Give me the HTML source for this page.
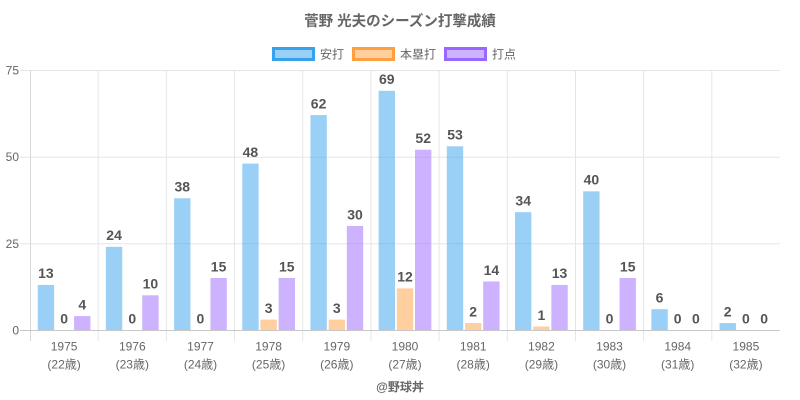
<!DOCTYPE html>
<html><head><meta charset="utf-8"><style>
html,body{margin:0;padding:0;background:#fff;}
svg{display:block;font-family:"Liberation Sans","Noto Sans CJK JP",sans-serif;}
</style></head><body>
<svg width="800" height="400" viewBox="0 0 800 400" xmlns="http://www.w3.org/2000/svg">
<rect width="800" height="400" fill="#fff"/>
<text x="400" y="26" text-anchor="middle" font-size="14.5" font-weight="bold" fill="#666">菅野 光夫のシーズン打撃成績</text>
<!-- legend -->
<rect x="273.5" y="48.5" width="40" height="11" fill="rgba(54,162,235,0.5)" stroke="#36a2eb" stroke-width="3"/>
<text x="320" y="58.5" font-size="12" fill="#666">安打</text>
<rect x="353.5" y="48.5" width="40" height="11" fill="rgba(255,159,64,0.5)" stroke="#ff9f40" stroke-width="3"/>
<text x="400" y="58.5" font-size="12" fill="#666">本塁打</text>
<rect x="445.5" y="48.5" width="40" height="11" fill="rgba(153,102,255,0.5)" stroke="#9966ff" stroke-width="3"/>
<text x="492" y="58.5" font-size="12" fill="#666">打点</text>
<!-- grid -->
<g stroke="#e6e6e6" stroke-width="1">
<line x1="20" y1="70.5" x2="780" y2="70.5"/>
<line x1="20" y1="157.2" x2="780" y2="157.2"/>
<line x1="20" y1="243.8" x2="780" y2="243.8"/>
<line x1="98.2" y1="70" x2="98.2" y2="341"/>
<line x1="166.4" y1="70" x2="166.4" y2="341"/>
<line x1="234.5" y1="70" x2="234.5" y2="341"/>
<line x1="302.7" y1="70" x2="302.7" y2="341"/>
<line x1="370.9" y1="70" x2="370.9" y2="341"/>
<line x1="439.1" y1="70" x2="439.1" y2="341"/>
<line x1="507.3" y1="70" x2="507.3" y2="341"/>
<line x1="575.5" y1="70" x2="575.5" y2="341"/>
<line x1="643.6" y1="70" x2="643.6" y2="341"/>
<line x1="711.8" y1="70" x2="711.8" y2="341"/>
</g>
<line x1="30.5" y1="70" x2="30.5" y2="341" stroke="#d9d9d9"/>
<line x1="20" y1="330.5" x2="780" y2="330.5" stroke="#c8c8c8"/>
<!-- y labels -->
<g font-size="12" fill="#666" text-anchor="end">
<text x="19" y="74.5">75</text>
<text x="19" y="161.2">50</text>
<text x="19" y="247.8">25</text>
<text x="19" y="334.5">0</text>
</g>
<!-- bars 安打 -->
<g fill="rgba(54,162,235,0.5)">
<rect x="37.73" y="284.93" width="16.36" height="45.07"/>
<rect x="105.91" y="246.8" width="16.36" height="83.2"/>
<rect x="174.09" y="198.27" width="16.36" height="131.73"/>
<rect x="242.27" y="163.6" width="16.36" height="166.4"/>
<rect x="310.45" y="115.07" width="16.36" height="214.93"/>
<rect x="378.64" y="90.8" width="16.36" height="239.2"/>
<rect x="446.82" y="146.27" width="16.36" height="183.73"/>
<rect x="515.0" y="212.13" width="16.36" height="117.87"/>
<rect x="583.18" y="191.33" width="16.36" height="138.67"/>
<rect x="651.36" y="309.2" width="16.36" height="20.8"/>
<rect x="719.55" y="323.07" width="16.36" height="6.93"/>
</g>
<!-- bars 本塁打 -->
<g fill="rgba(255,159,64,0.5)">
<rect x="260.45" y="319.6" width="16.36" height="10.4"/>
<rect x="328.64" y="319.6" width="16.36" height="10.4"/>
<rect x="396.82" y="288.4" width="16.36" height="41.6"/>
<rect x="465.0" y="323.07" width="16.36" height="6.93"/>
<rect x="533.18" y="326.53" width="16.36" height="3.47"/>
</g>
<!-- bars 打点 -->
<g fill="rgba(153,102,255,0.5)">
<rect x="74.09" y="316.13" width="16.36" height="13.87"/>
<rect x="142.27" y="295.33" width="16.36" height="34.67"/>
<rect x="210.45" y="278" width="16.36" height="52"/>
<rect x="278.64" y="278" width="16.36" height="52"/>
<rect x="346.82" y="226" width="16.36" height="104"/>
<rect x="415.0" y="149.73" width="16.36" height="180.27"/>
<rect x="483.18" y="281.47" width="16.36" height="48.53"/>
<rect x="551.36" y="284.93" width="16.36" height="45.07"/>
<rect x="619.55" y="278" width="16.36" height="52"/>
</g>
<!-- value labels -->
<g font-size="14" font-weight="bold" fill="#555" text-anchor="middle">
<text x="45.9" y="278.2">13</text>
<text x="64.1" y="323.3">0</text>
<text x="82.3" y="309.4">4</text>
<text x="114.1" y="240.1">24</text>
<text x="132.3" y="323.3">0</text>
<text x="150.4" y="288.6">10</text>
<text x="182.3" y="191.6">38</text>
<text x="200.4" y="323.3">0</text>
<text x="218.6" y="271.3">15</text>
<text x="250.4" y="156.9">48</text>
<text x="268.6" y="312.9">3</text>
<text x="286.8" y="271.3">15</text>
<text x="318.6" y="108.4">62</text>
<text x="336.8" y="312.9">3</text>
<text x="355.0" y="219.3">30</text>
<text x="386.8" y="84.1">69</text>
<text x="405.0" y="281.7">12</text>
<text x="423.2" y="143.0">52</text>
<text x="455.0" y="139.6">53</text>
<text x="473.2" y="316.4">2</text>
<text x="491.4" y="274.8">14</text>
<text x="523.2" y="205.4">34</text>
<text x="541.4" y="319.8">1</text>
<text x="559.5" y="278.2">13</text>
<text x="591.4" y="184.6">40</text>
<text x="609.5" y="323.3">0</text>
<text x="627.7" y="271.3">15</text>
<text x="659.5" y="302.5">6</text>
<text x="677.7" y="323.3">0</text>
<text x="695.9" y="323.3">0</text>
<text x="727.7" y="316.4">2</text>
<text x="745.9" y="323.3">0</text>
<text x="764.1" y="323.3">0</text>
</g>
<!-- x labels -->
<g font-size="12" fill="#666" text-anchor="middle">
<text x="64.1" y="350.5">1975</text><text x="64.1" y="368.5">(22歳)</text>
<text x="132.3" y="350.5">1976</text><text x="132.3" y="368.5">(23歳)</text>
<text x="200.5" y="350.5">1977</text><text x="200.5" y="368.5">(24歳)</text>
<text x="268.6" y="350.5">1978</text><text x="268.6" y="368.5">(25歳)</text>
<text x="336.8" y="350.5">1979</text><text x="336.8" y="368.5">(26歳)</text>
<text x="405.0" y="350.5">1980</text><text x="405.0" y="368.5">(27歳)</text>
<text x="473.2" y="350.5">1981</text><text x="473.2" y="368.5">(28歳)</text>
<text x="541.4" y="350.5">1982</text><text x="541.4" y="368.5">(29歳)</text>
<text x="609.5" y="350.5">1983</text><text x="609.5" y="368.5">(30歳)</text>
<text x="677.7" y="350.5">1984</text><text x="677.7" y="368.5">(31歳)</text>
<text x="745.9" y="350.5">1985</text><text x="745.9" y="368.5">(32歳)</text>
</g>
<text x="400" y="391" text-anchor="middle" font-size="12" font-weight="bold" fill="#666">@野球丼</text>
</svg>
</body></html>
